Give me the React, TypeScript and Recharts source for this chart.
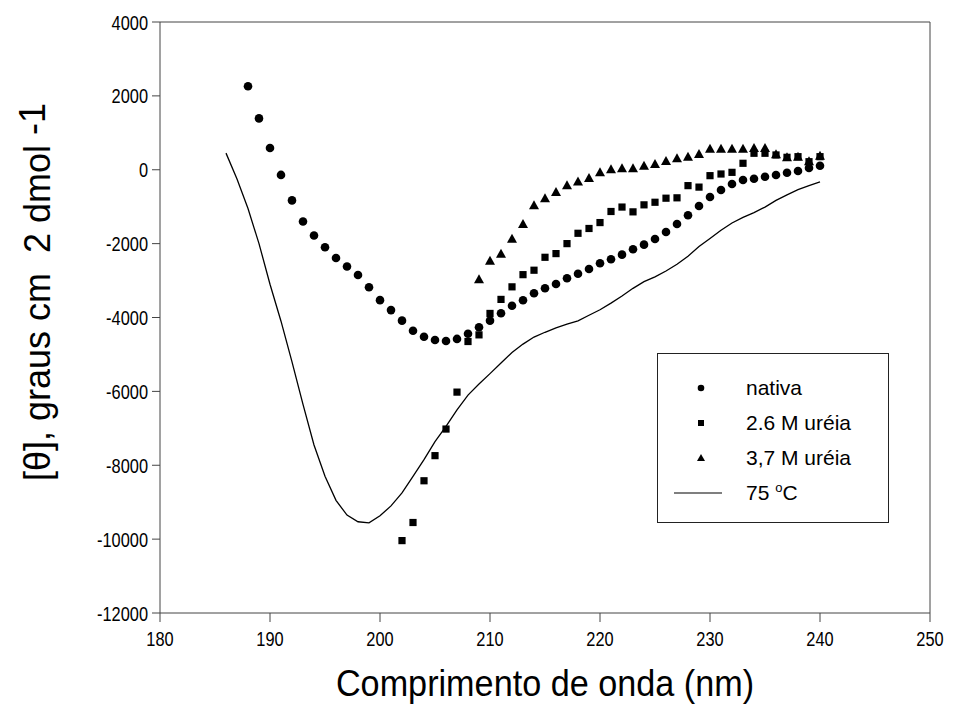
import { ComposedChart, Line, ReferenceLine, Scatter, XAxis, YAxis } from 'recharts';

// wavelength (nm) and molar ellipticity
const nativaNm = [
  188, 189, 190, 191, 192, 193, 194, 195, 196, 197, 198, 199, 200, 201, 202, 203, 204, 205, 206,
  207, 208, 209, 210, 211, 212, 213, 214, 215, 216, 217, 218, 219, 220, 221, 222, 223, 224, 225,
  226, 227, 228, 229, 230, 231, 232, 233, 234, 235, 236, 237, 238, 239, 240,
];
const nativaTheta = [
  2260, 1390, 590, -140, -830, -1400, -1780, -2100, -2390, -2620, -2850, -3180, -3530, -3800,
  -4085, -4360, -4520, -4610, -4635, -4580, -4440, -4265, -4085, -3886, -3680, -3535, -3345,
  -3210, -3093, -2939, -2814, -2686, -2532, -2424, -2298, -2153, -2028, -1874, -1685, -1468,
  -1233, -981, -737, -548, -385, -277, -242, -188, -142, -80, -34, 48, 110,
];

const urea26Nm = [
  202, 203, 204, 205, 206, 207, 208, 209, 210, 211, 212, 213, 214, 215, 216, 217, 218, 219, 220,
  221, 222, 223, 224, 225, 226, 227, 228, 229, 230, 231, 232, 233, 234, 235, 236, 237, 238, 239,
  240,
];
const urea26Theta = [
  -10040, -9550, -8420, -7740, -7020, -6020, -4650, -4470, -3890, -3510, -3170, -2840, -2720,
  -2370, -2270, -2000, -1720, -1590, -1430, -1130, -1010, -1140, -950, -880, -770, -760, -430,
  -470, -160, -115, -70, 175, 446, 446, 400, 337, 354, 218, 354,
];

const urea37Nm = [
  209, 210, 211, 212, 213, 214, 215, 216, 217, 218, 219, 220, 221, 222, 223, 224, 225, 226, 227,
  228, 229, 230, 231, 232, 233, 234, 235, 236, 237, 238, 239, 240,
];
const urea37Theta = [
  -2966, -2462, -2273, -1866, -1468, -962, -773, -602, -421, -318, -223, -69, 13, 40, 40, 110,
  156, 237, 310, 354, 427, 571, 571, 571, 571, 590, 590, 419, 337, 354, 230, 381,
];

const heat75Nm = [
  186, 187, 188, 189, 190, 191, 192, 193, 194, 195, 196, 197, 198, 199, 200, 201, 202, 203, 204,
  205, 206, 207, 208, 209, 210, 211, 212, 213, 214, 215, 216, 217, 218, 219, 220, 221, 222, 223,
  224, 225, 226, 227, 228, 229, 230, 231, 232, 233, 234, 235, 236, 237, 238, 239, 240,
];
const heat75Theta = [
  450, -250, -1050, -2000, -3100, -4100, -5200, -6350, -7450, -8300, -8950, -9350, -9530, -9560,
  -9370, -9100, -8750, -8300, -7850, -7360, -6950, -6500, -6100, -5800, -5520, -5230, -4950,
  -4720, -4530, -4400, -4280, -4180, -4090, -3940, -3790, -3610, -3420, -3210, -3030, -2900,
  -2740, -2560, -2340, -2080, -1860, -1640, -1440, -1290, -1160, -1010, -830, -680, -540, -430,
  -330,
];

const xTicks = [180, 190, 200, 210, 220, 230, 240, 250];
const yTicks = [-12000, -10000, -8000, -6000, -4000, -2000, 0, 2000, 4000];

const legendLabels = ['nativa', '2.6 M uréia', '3,7 M uréia', '75 '];

const toPoints = (xs: number[], ys: number[]) => xs.map((x, i) => ({ x, y: ys[i] }));

const nativa = toPoints(nativaNm, nativaTheta);
const urea26 = toPoints(urea26Nm, urea26Theta);
const urea37 = toPoints(urea37Nm, urea37Theta);
const heat75 = toPoints(heat75Nm, heat75Theta);

const FONT = '"Liberation Sans", Arial, sans-serif';
const AXIS = '#444';

const Dot = (p: any) => <circle cx={p.cx} cy={p.cy} r={4.3} fill="#000" />;
const Box = (p: any) => <rect x={p.cx - 3.6} y={p.cy - 3.6} width={7.2} height={7.2} fill="#000" />;
const Tri = (p: any) => (
  <path d={`M${p.cx},${p.cy - 5} L${p.cx + 5},${p.cy + 4} L${p.cx - 5},${p.cy + 4} Z`} fill="#000" />
);

// the original's labels are a little narrow, so squeeze them horizontally
function XTick({ x, y, payload }: any) {
  return (
    <text
      transform={`translate(${x},${y + 22}) scale(0.78,1)`}
      textAnchor="middle"
      fontFamily={FONT}
      fontSize={21}
      fill="#000"
    >
      {payload.value}
    </text>
  );
}

function YTick({ x, y, payload }: any) {
  return (
    <text
      transform={`translate(${x},${y + 7.5}) scale(0.78,1)`}
      textAnchor="end"
      fontFamily={FONT}
      fontSize={21}
      fill="#000"
    >
      {payload.value}
    </text>
  );
}

function XTitle({ viewBox }: any) {
  const { x, width } = viewBox;
  return (
    <text
      transform={`translate(${x + width / 2},696) scale(0.95,1)`}
      textAnchor="middle"
      fontFamily={FONT}
      fontSize={36}
      fill="#000"
    >
      Comprimento de onda (nm)
    </text>
  );
}

function YTitle() {
  return (
    <text
      transform="translate(50,292) rotate(-90)"
      textAnchor="middle"
      fontFamily={FONT}
      fontSize={36}
      fill="#000"
      style={{ whiteSpace: 'pre' }}
    >
      {'[θ], graus cm\u00a0\u00a02 dmol '}
      <tspan dy={-5}>-1</tspan>
    </text>
  );
}

function LegendBox() {
  const icon = (i: number) => {
    if (i === 0) return <circle cx={43} cy={10} r={3.3} fill="#000" />;
    if (i === 1) return <rect x={40} y={7} width={6} height={6} fill="#000" />;
    if (i === 2) return <path d="M43,6 L47,13 L39,13 Z" fill="#000" />;
    return <line x1={16} x2={64} y1={10} y2={10} stroke="#000" strokeWidth={1.2} />;
  };
  return (
    <div
      style={{
        position: 'absolute',
        left: 657,
        top: 353,
        width: 232,
        height: 170,
        boxSizing: 'border-box',
        border: '1.5px solid #222',
        background: '#fff',
        paddingTop: 16,
        fontFamily: FONT,
        fontSize: 21,
      }}
    >
      {legendLabels.map((label, i) => (
        <div key={label} style={{ display: 'flex', alignItems: 'center', height: 35 }}>
          <svg width={88} height={20}>
            {icon(i)}
          </svg>
          <span>
            {label}
            {i === 3 && (
              <>
                <sup style={{ fontSize: 13 }}>o</sup>C
              </>
            )}
          </span>
        </div>
      ))}
    </div>
  );
}

export default function App() {
  return (
    <div style={{ position: 'absolute', left: 0, top: 0, width: 953, height: 724, background: '#fff' }}>
      <ComposedChart width={953} height={724} margin={{ top: 22, right: 23, bottom: 0, left: 0 }}>
        <XAxis
          dataKey="x"
          type="number"
          domain={[180, 250]}
          ticks={xTicks}
          interval={0}
          height={111}
          tickSize={9}
          tickMargin={2}
          stroke={AXIS}
          tick={<XTick />}
          label={<XTitle />}
        />
        <YAxis
          dataKey="y"
          type="number"
          domain={[-12000, 4000]}
          ticks={yTicks}
          interval={0}
          width={160}
          tickSize={8}
          tickMargin={4}
          stroke={AXIS}
          tick={<YTick />}
          label={<YTitle />}
        />
        <ReferenceLine y={4000} stroke={AXIS} ifOverflow="visible" />
        <ReferenceLine x={250} stroke={AXIS} ifOverflow="visible" />
        <Line
          data={heat75}
          dataKey="y"
          type="linear"
          stroke="#000"
          strokeWidth={1.3}
          dot={false}
          isAnimationActive={false}
        />
        <Scatter data={nativa} shape={Dot} isAnimationActive={false} />
        <Scatter data={urea26} shape={Box} isAnimationActive={false} />
        <Scatter data={urea37} shape={Tri} isAnimationActive={false} />
      </ComposedChart>
      <LegendBox />
    </div>
  );
}
